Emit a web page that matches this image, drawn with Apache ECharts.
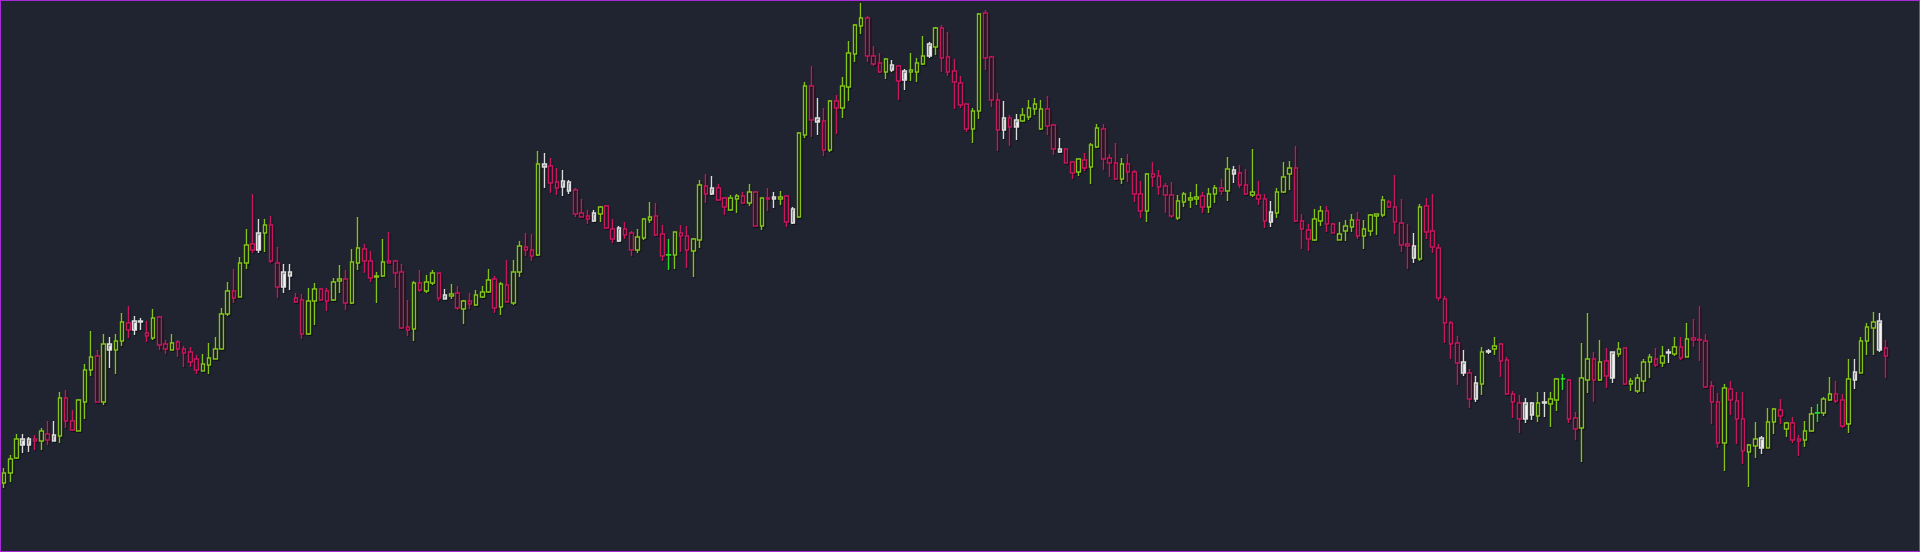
<!DOCTYPE html>
<html>
<head>
<meta charset="utf-8">
<script src="https://cdn.jsdelivr.net/npm/echarts/dist/echarts.min.js"></script>
<style>
html,body{margin:0;padding:0;background:#1f2430;overflow:hidden;}
#c{width:1920px;height:552px;}
#frame{position:absolute;left:0;top:0;width:1920px;height:552px;box-sizing:border-box;border:1px solid #a82ad6;pointer-events:none;}
</style>
</head>
<body>
<div id="c"></div>
<div id="frame"></div>
<script>
// OHLC values (arbitrary price units)
const opens = [
117,127,142,155,155,161,159,166,159,164,
202,179,169,198,230,244,198,250,250,259,
277,270,278,267,262,283,256,250,258,251,
248,241,229,235,241,251,286,309,303,337,
356,350,367,375,337,313,324,302,300,266,
299,311,309,300,319,321,297,337,351,339,
323,324,339,339,328,273,271,317,309,317,
327,301,304,307,291,299,295,303,308,321,
293,315,297,328,353,350,345,433,434,418,
413,409,410,387,384,379,386,394,371,359,
371,367,350,362,380,384,366,345,345,367,
364,349,360,414,406,412,402,390,401,404,
397,408,374,402,401,401,404,377,383,465,
514,478,479,450,499,492,513,546,574,582,
544,537,528,530,534,520,528,528,536,544,
553,572,543,529,517,496,471,489,587,543,
500,470,482,473,479,483,491,471,491,475,
448,451,438,428,440,433,453,471,442,437,
421,436,428,406,389,426,424,414,405,382,
398,400,401,404,393,406,412,409,426,427,
415,405,405,401,378,387,408,426,432,379,
370,360,379,389,376,360,369,373,380,364,
369,384,385,398,393,377,356,342,341,394,
369,352,301,277,257,227,227,201,216,248,
251,256,240,206,197,181,185,184,197,196,
200,221,220,182,172,220,241,220,239,222,
246,252,216,209,219,238,241,237,247,246,
253,243,262,260.5,259,214,198,157,211,199,
181,148,154,152,152,178,190,171,177,161,
160,169,187,187,200,206,200,176,220,227,
259,272,250,252
];
const closes = [
127,141,161,161,161,159,169,160,165,202,
179,170,200,230,243,198,256,256,259,278,
270,279,279,264,282,255,251,257,251,247,
238,230,236,242,251,286,309,302,337,355,
350,367,375,339,313,328,328,298,266,299,
311,300,299,318,321,297,338,352,339,322,
324,338,337,327,272,270,317,310,318,327,
302,305,306,292,299,296,305,308,320,292,
316,298,328,354,350,344,436,436,417,412,
419,418,386,383,381,387,393,372,361,372,
365,350,363,381,383,365,344,345.4,368,364,
350,361,415,406,412,400,393,402,404,397,
408,374,402,401,403,403,378,391,467,514,
480,482,450,499,492,514,547,575,582,544,
536,528,541,535,519,529,530,537,544,556,
572,542,528,518,495,471,489,586,542,500,
470,482,473,480,485,492,496,491,474,451,
451,437,427,441,432,455,472,441,437,421,
436,428,406,389,426,423,413,405,384,399,
406,402,403,393,406,412,409,431,430,415,
406,408,401,379,388,408,423,432,379,371,
361,381,389,376,367,366,374,380,364,371,
385,386,400,393,378,355,354,354,393,368,
353,302,277,256,237,238,201,217,248,249,
254,239,206,198,181,197,197,197,198,201,
221,221.4,181,171,222,241,220,238,224,248,
251,216,219,222,238,243,235,244,248,253,
242,261,260,260,213,198,157,212,200,181,
149,155,161,162,178,191,184,177,160,159,
169,186,187.4,201,206,199,174,221,228,259,
273,278,279,244
];
const lows = [
112,118,141,147,148,150,150,155,159,157,
172,169,169,181,224,198,195,232,226,254,
262,265,270,258,260,250,246,250,243,233,
233,226,229,226,241,250,284,297,303,331,
347,347,348,337,302,307,310,297,261,265,
275,299,289,299,307,290,296,330,327,318,
297,323,337,312,271,264,259,308,307,315,
299,301,301,290,276,291,294,302,307,287,
285,298,295,323,344,339,344,412,407,405,
404,406,383,383,376,378,378,371,357,358,
361,344,347,360,377,364,339,330,331,348,
332,323,352,397,405,399,385,389,387,396,
394,374,370,389,392,395,373,376,382,462,
463,465,444,448,466,482,499,538,566,538,
534,527,521,528,500,510,519,518,535,542,
545,528,524,491,492,468,457,481,530,493,
449,461,454,460,478,480,485,470,465,445,
447,437,421,424,429,416,452,430,423,420,
416,418,398,382,378,413,405,387,382,380,
393,392,395,387,387,397,405,399,417,412,
405,403,395,372,373,382,407,410,378,351,
349,359,374,368,367,360,359,368,361,351,
364,365,383,392,366,348,331,337,339,361,
347,299,257,241,215,224,192,198,205,246,
245,223,205,182,167,177,180,178,183,173,
189,210,177,160,138,207,198,219,212,217,
243,215,209,207,208,222,233,233,237,244,
240,243,253,239,212,176,152,129,185,156,
136,113,142,146,152,166,176,163,157,144,
153,168,178,184,199,197,172,167,211,227,
245,245,248,222
];
const highs = [
132,145,166,166,163,165,172,179,179,208,
210,190,201,236,269,250,266,263,266,287,
294,284,282,279,291,284,260,266,260,254,
253,245,246,257,263,292,318,331,343,371,
406,381,381,384,353,336,336,307,306,312,
317,312,312,322,335,330,351,383,356,349,
328,361,368,340,336,300,319,330,325,330,
327,311,316,314,300,307,310,314,331,324,
318,340,340,359,367,366,449,447,442,432,
430,420,412,401,390,390,394,395,381,374,
378,369,371,382,398,397,375,361,368,375,
374,362,420,426,424,416,403,405,406,408,
416,409,402,412,408,409,405,393,468,518,
534,502,492,500,505,523,559,576,597,584,
554,547,542,540,535,531,547,542,564,558,
573,575,568,541,524,496,492,587,590,544,
507,499,485,486,492,500,502,500,504,476,
462,451,439,442,447,457,476,476,446,457,
442,446,430,419,427,438,430,417,418,405,
408,408,416,408,412,415,421,443,434,435,
431,451,419,406,399,412,438,439,454,386,
376,391,394,394,377,378,380,386,388,380,
386,386,404,400,425,401,376,367,396,402,
406,356,304,279,264,250,231,224,253,251,
263,257,243,209,205,202,198,208,208,208,
222,226,221,188,257,287,248,260,252,248,
258,252,222,226,241,246,252,254,251,263,
263,277,281,294,266,219,207,216,219,208,
208,156,178,164,192,192,201,178,183,165,
179,193,196,203,223,219,206,241,241,263,
277,288,287,260
];
// candle kinds (indices)
const whiteCandles = [3,4,8,17,21,22,41,45,46,71,87,90,91,95,99,114,124,127,131,143,145,149,161,163,170,198,204,227,235,237,239,245,246,248,259,268,283,298,302];
const crossCandles = [107,251,292];
const slotCount = 309; // categories including empty slots on the right
const categories = Array.from({length: slotCount}, (_, i) => String(i + 1));

const BG = '#1f2430';
const UP = '#84c41a';
const DOWN = '#c8165f';
const WHITE_BODY = '#ffffff';
const WHITE_WICK = '#dcdcdc';
const CROSS = '#22dd22';

const whiteSet = new Set(whiteCandles);
const crossSet = new Set(crossCandles);
const seriesData = opens.map((o, i) => {
  const item = { value: [o, closes[i], lows[i], highs[i]] };
  if (whiteSet.has(i)) {
    item.itemStyle = { color: WHITE_BODY, color0: WHITE_BODY, borderColor: WHITE_WICK, borderColor0: WHITE_WICK, borderColorDoji: WHITE_WICK };
  } else if (crossSet.has(i)) {
    item.itemStyle = { color: CROSS, color0: CROSS, borderColor: CROSS, borderColor0: CROSS, borderColorDoji: CROSS };
  }
  return item;
});

const chart = echarts.init(document.getElementById('c'), null, { renderer: 'canvas' });
chart.setOption({
  backgroundColor: BG,
  animation: false,
  grid: { left: 1, right: 0, top: 0, bottom: 0 },
  xAxis: { type: 'category', data: categories, boundaryGap: true, show: false },
  yAxis: { type: 'value', min: 48, max: 600, show: false, splitLine: { show: false } },
  series: [{
    type: 'candlestick',
    data: seriesData,
    barWidth: 4,
    emphasis: { disabled: true },
    itemStyle: {
      color: BG,
      color0: BG,
      borderColor: UP,
      borderColor0: DOWN,
      borderColorDoji: UP,
      borderWidth: 1.4,
      shadowColor: 'rgba(0,0,0,0.6)',
      shadowBlur: 1,
      shadowOffsetX: 1,
      shadowOffsetY: 1
    }
  }]
});
</script>
</body>
</html>
